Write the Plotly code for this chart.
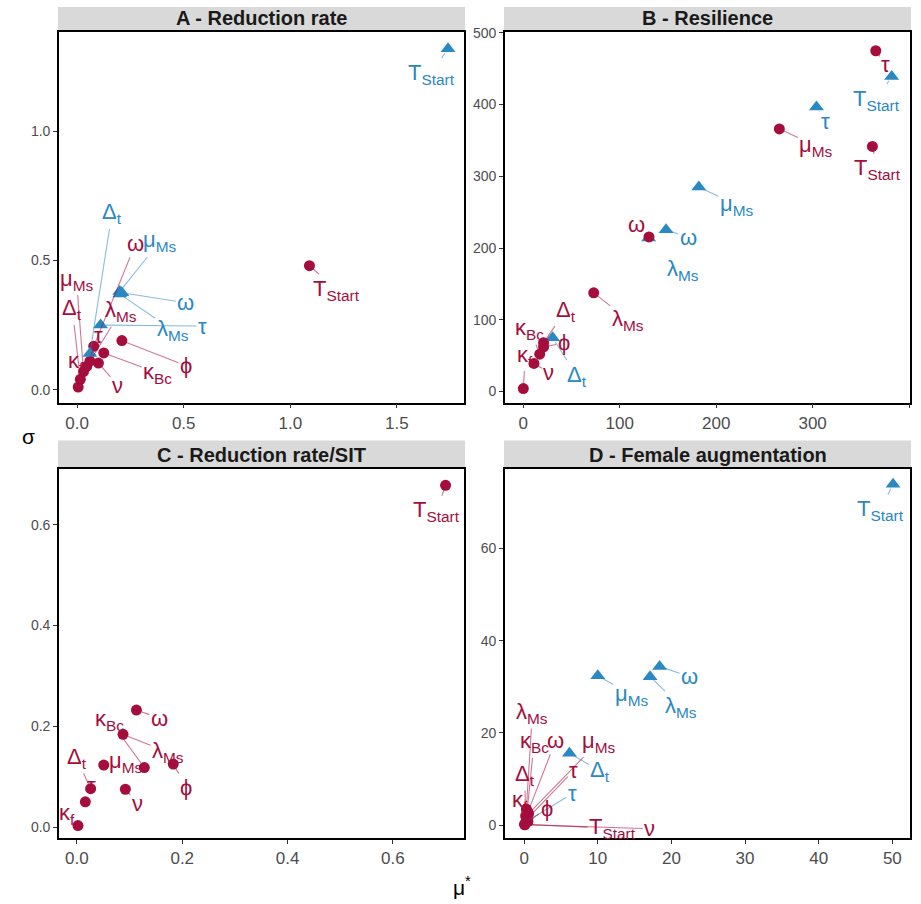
import plotly.graph_objects as go
from plotly.subplots import make_subplots

RED = "#A50D3D"
BLUE = "#2A88C2"
RED_SEG = "rgba(165,13,61,0.55)"
BLUE_SEG = "rgba(42,136,194,0.55)"

# ---------------- data ----------------
red_params = ["T_Start", "tau", "mu_Ms", "lambda_Ms", "omega", "Delta_t", "kappa_Bc", "kappa_f", "phi", "nu"]
blue_params = ["T_Start", "tau", "mu_Ms", "lambda_Ms", "omega", "Delta_t"]

param_labels = {
    "T_Start": "T<sub>Start</sub>", "tau": "τ", "mu_Ms": "μ<sub>Ms</sub>",
    "lambda_Ms": "λ<sub>Ms</sub>", "omega": "ω", "Delta_t": "Δ<sub>t</sub>",
    "kappa_Bc": "κ<sub>Bc</sub>", "kappa_f": "κ<sub>f</sub>", "phi": "ϕ", "nu": "ν",
}

# Panel A - Reduction rate
a_red_mu = [1.09, 0.045, 0.03, 0.06, 0.078, 0.015, 0.125, 0.005, 0.21, 0.10]
a_red_sigma = [0.48, 0.09, 0.07, 0.11, 0.168, 0.04, 0.142, 0.01, 0.19, 0.103]
a_blue_mu = [1.74, 0.11, 0.20, 0.20, 0.21, 0.06]
a_blue_sigma = [1.32, 0.25, 0.38, 0.37, 0.375, 0.14]

# Panel B - Resilience
b_red_mu = [362, 365.5, 265.5, 73, 130.3, 21, 17, 0, 21, 11]
b_red_sigma = [341.6, 475, 366, 137.5, 215.5, 68, 52, 4, 62, 39]
b_blue_mu = [382, 304, 182, 130, 148, 30.4]
b_blue_sigma = [439, 396.5, 285, 214, 225.6, 74.8]

# Panel C - Reduction rate/SIT
c_red_mu = [0.70, 0.016, 0.051, 0.0875, 0.113, 0.026, 0.128, 0.002, 0.183, 0.092]
c_red_sigma = [0.678, 0.05, 0.123, 0.184, 0.232, 0.076, 0.118, 0.003, 0.125, 0.075]

# Panel D - Female augmentation
d_red_mu = [0.05, 0.5, 0.6, 0.3, 0.5, 0.2, 0.4, 0.3, 0.5, 0.1]
d_red_sigma = [0.2, 1.5, 2.5, 3.5, 2.8, 2.0, 3.0, 1.0, 0.8, 0.1]
d_blue_mu = [50.1, 0.3, 10, 17.1, 18.4, 6.15]
d_blue_sigma = [73.9, 0.8, 32.4, 32.2, 34.4, 15.6]

panel_titles = ["A - Reduction rate", "B - Resilience", "C - Reduction rate/SIT", "D - Female augmentation"]

# ---------------- label placement (pixel offsets, styling only) ----------------
off = {
    ("A", "red"): {"T_Start": (27, 24), "tau": (12, -31), "mu_Ms": (-7, -92), "lambda_Ms": (31, -50),
                   "omega": (42, -103), "Delta_t": (-8, -70), "kappa_Bc": (54, 20), "kappa_f": (-2, -25),
                   "phi": (64, 25), "nu": (19, 22)},
    ("A", "blue"): {"T_Start": (-17, 25), "tau": (102, 1), "mu_Ms": (40, -50), "lambda_Ms": (53, 36),
                    "omega": (64, 10), "Delta_t": (22, -140)},
    ("B", "red"): {"T_Start": (5, 23), "tau": (10, 14), "mu_Ms": (37, 17), "lambda_Ms": (34, 27),
                   "omega": (-12, -12), "Delta_t": (22, -32), "kappa_Bc": (-10, -25), "kappa_f": (2, -33),
                   "phi": (20, -4), "nu": (15, 9)},
    ("B", "blue"): {"T_Start": (-15, 23), "tau": (9, 14), "mu_Ms": (38, 18), "lambda_Ms": (34, 32),
                    "omega": (22, 8), "Delta_t": (24, 38)},
    ("C", "red"): {"T_Start": (-9, 26), "tau": (6, -16), "mu_Ms": (22, -3), "lambda_Ms": (45, 18),
                   "omega": (23, 8), "Delta_t": (-14, -31), "kappa_Bc": (-35, -48), "kappa_f": (-11, -12),
                   "phi": (13, 23), "nu": (12, 14)},
    ("D", "red"): {"T_Start": (88, 4), "tau": (46, -48), "mu_Ms": (70, -72), "lambda_Ms": (6, -96),
                   "omega": (28, -72), "Delta_t": (-1, -41), "kappa_Bc": (7, -69), "kappa_f": (-6, -20),
                   "phi": (19, -13), "nu": (125, 4)},
    ("D", "blue"): {"T_Start": (-13, 26), "tau": (46, -28), "mu_Ms": (34, 19), "lambda_Ms": (31, 30),
                    "omega": (30, 10), "Delta_t": (31, 18)},
}

W, H = 921, 904


def yd(y):
    """page pixel row -> figure pixel row (compensates page offset in the viewer)"""
    return max(0.0, y / 0.991 - 8)


fig = make_subplots(rows=2, cols=2)

RED_S = lambda xs, ys: (xs, ys, red_params, "red")
BLUE_S = lambda xs, ys: (xs, ys, blue_params, "blue")
panels = [
    ("A", 1, 1, [RED_S(a_red_mu, a_red_sigma), BLUE_S(a_blue_mu, a_blue_sigma)]),
    ("B", 1, 2, [BLUE_S(b_blue_mu, b_blue_sigma), RED_S(b_red_mu, b_red_sigma)]),
    ("C", 2, 1, [RED_S(c_red_mu, c_red_sigma)]),
    ("D", 2, 2, [BLUE_S(d_blue_mu, d_blue_sigma), RED_S(d_red_mu, d_red_sigma)]),
]

axis_names = {"A": ("x", "y"), "B": ("x2", "y2"), "C": ("x3", "y3"), "D": ("x4", "y4")}
annotations = []
for key, r, c, series in panels:
    xr, yr = axis_names[key]
    for xs, ys, params, col in series:
        color = RED if col == "red" else BLUE
        seg = RED_SEG if col == "red" else BLUE_SEG
        fig.add_trace(go.Scatter(
            x=xs, y=ys, mode="markers", showlegend=False,
            marker=dict(color=color, size=11 if col == "red" else 13,
                        symbol="circle" if col == "red" else "triangle-up", line=dict(width=0)),
            text=[param_labels[p] for p in params], hoverinfo="text+x+y"), row=r, col=c)
        for xv, yv, p in zip(xs, ys, params):
            dx, dy = off[(key, col)][p]
            annotations.append(dict(
                x=xv, y=yv, xref=xr, yref=yr, text=param_labels[p], showarrow=True,
                ax=dx, ay=dy, arrowhead=0, arrowwidth=1.1, arrowcolor=seg, standoff=5,
                font=dict(family="Liberation Sans, Arial, sans-serif", size=22, color=color)))

# panel rectangles in page pixels (left, right, top, bottom)
dom = {"A": (59, 464, 33, 403), "B": (505, 910, 33, 403), "C": (59, 464, 469, 838), "D": (505, 910, 469, 838)}
ranges = {"A": ([-0.085, 1.815], [-0.05, 1.384]), "B": ([-19, 401], [-15.5, 501]),
          "C": ([-0.034, 0.735], [-0.022, 0.711]), "D": ([-2.6, 52.4], [-2.8, 77.3])}
ticks = {"A": ([0, 0.5, 1.0, 1.5], ["0.0", "0.5", "1.0", "1.5"], [0, 0.5, 1.0], ["0.0", "0.5", "1.0"]),
         "B": ([0, 100, 200, 300, 400], ["0", "100", "200", "300", "400"], [0, 100, 200, 300, 400, 500],
               ["0", "100", "200", "300", "400", "500"]),
         "C": ([0, 0.2, 0.4, 0.6], ["0.0", "0.2", "0.4", "0.6"], [0, 0.2, 0.4, 0.6], ["0.0", "0.2", "0.4", "0.6"]),
         "D": ([0, 10, 20, 30, 40, 50], ["0", "10", "20", "30", "40", "50"], [0, 20, 40, 60],
               ["0", "20", "40", "60"])}

shapes = []
for i, key in enumerate(["A", "B", "C", "D"]):
    l, rr, t, b = dom[key]
    xa = "xaxis" if i == 0 else f"xaxis{i+1}"
    ya = "yaxis" if i == 0 else f"yaxis{i+1}"
    xt, xl, yt, yl = ticks[key]
    fig.layout[xa].update(domain=[l / W, rr / W], range=ranges[key][0], showgrid=False, zeroline=False,
                          showline=True, mirror=True, linecolor="black", linewidth=1.6,
                          ticks="outside", ticklen=4, tickcolor="#333333", tickwidth=1,
                          tickvals=xt, ticktext=xl,
                          tickfont=dict(family="Liberation Sans, Arial", size=17, color="#4D4D4D"))
    fig.layout[ya].update(domain=[1 - yd(b) / H, 1 - yd(t) / H], range=ranges[key][1], showgrid=False,
                          zeroline=False, showline=True, mirror=True, linecolor="black", linewidth=1.6,
                          ticks="outside", ticklen=4, tickcolor="#333333", tickwidth=1,
                          tickvals=yt, ticktext=yl,
                          tickfont=dict(family="Liberation Sans, Arial", size=14, color="#4D4D4D"))
    st = t - 28
    shapes.append(dict(type="rect", xref="paper", yref="paper", x0=(l - 1) / W, x1=(rr + 1) / W,
                       y0=1 - yd(t - 1) / H, y1=1 - yd(st) / H, fillcolor="#D9D9D9", line=dict(width=0),
                       layer="below"))
    annotations.append(dict(xref="paper", yref="paper", x=(l + rr) / 2 / W, y=1 - yd((st + t) / 2) / H,
                            text=f"<b>{panel_titles[i]}</b>", showarrow=False, xanchor="center", yanchor="middle",
                            font=dict(family="Liberation Sans, Arial", size=20, color="#1A1A1A")))

annotations.append(dict(xref="paper", yref="paper", x=28 / W, y=1 - yd(437) / H, text="σ", showarrow=False,
                        xanchor="center", yanchor="middle",
                        font=dict(family="Liberation Sans, Arial", size=21, color="black")))
annotations.append(dict(xref="paper", yref="paper", x=462 / W, y=1 - yd(886) / H, text="μ<sup>*</sup>",
                        showarrow=False, xanchor="center", yanchor="middle",
                        font=dict(family="Liberation Sans, Arial", size=21, color="black")))

fig.update_layout(width=W, height=H, margin=dict(l=0, r=0, t=0, b=0), plot_bgcolor="white",
                  paper_bgcolor="white", annotations=annotations, shapes=shapes,
                  font=dict(family="Liberation Sans, Arial, sans-serif"))
fig.write_html("out.html", config={"displayModeBar": False},
               post_script="document.body.style.margin='0';document.body.style.overflow='hidden';")
